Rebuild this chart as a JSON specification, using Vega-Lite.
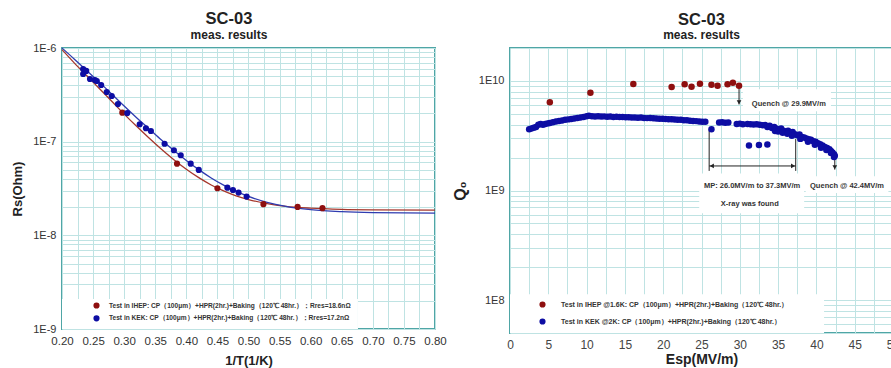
{
  "$schema": "https://vega.github.io/schema/vega-lite/v6.json",
  "background": "white",
  "padding": {"left": 10, "top": 9, "right": 0, "bottom": 0},
  "spacing": 3,
  "config": {
    "font": "Liberation Sans",
    "view": {"stroke": "#4fa6a6", "strokeWidth": 2},
    "axis": {
      "gridColor": "#bfe3e3", "gridOpacity": 1, "gridWidth": 1,
      "domain": false, "ticks": false,
      "labelFont": "Liberation Sans", "labelColor": "#333", "labelFontSize": 11,
      "titleFont": "Liberation Sans", "titleFontWeight": "bold", "titleColor": "#222", "titleFontSize": 13,
      "labelOverlap": false, "labelFlush": false, "labelBound": false
    },
    "title": {
      "font": "Liberation Sans", "fontSize": 16.5, "fontWeight": "bold", "color": "#222",
      "subtitleFont": "Liberation Sans", "subtitleFontSize": 12, "subtitleFontWeight": "bold", "subtitleColor": "#222"
    },
    "legend": {
      "title": null, "labelFont": "Liberation Sans", "labelFontWeight": "bold", "labelFontSize": 7,
      "labelColor": "#333", "labelLimit": 500, "symbolType": "circle", "symbolStrokeWidth": 0
    }
  },
  "resolve": {"scale": {"color": "independent"}, "legend": {"color": "independent"}},
  "datasets": {
    "leftBox": [{"x": 0.2, "x2": 0.676, "y": 1e-9, "y2": 2.09e-9}],
    "fits": [
      {"x": 0.20, "y": 1.0e-6, "series": "KEK"}, {"x": 0.22, "y": 7.60e-7, "series": "KEK"},
      {"x": 0.24, "y": 5.73e-7, "series": "KEK"}, {"x": 0.26, "y": 4.31e-7, "series": "KEK"},
      {"x": 0.28, "y": 3.23e-7, "series": "KEK"}, {"x": 0.30, "y": 2.40e-7, "series": "KEK"},
      {"x": 0.32, "y": 1.80e-7, "series": "KEK"}, {"x": 0.34, "y": 1.37e-7, "series": "KEK"},
      {"x": 0.36, "y": 1.04e-7, "series": "KEK"}, {"x": 0.38, "y": 8.05e-8, "series": "KEK"},
      {"x": 0.40, "y": 6.31e-8, "series": "KEK"}, {"x": 0.42, "y": 5.03e-8, "series": "KEK"},
      {"x": 0.44, "y": 4.10e-8, "series": "KEK"}, {"x": 0.46, "y": 3.43e-8, "series": "KEK"},
      {"x": 0.48, "y": 2.94e-8, "series": "KEK"}, {"x": 0.50, "y": 2.60e-8, "series": "KEK"},
      {"x": 0.53, "y": 2.25e-8, "series": "KEK"}, {"x": 0.56, "y": 2.04e-8, "series": "KEK"},
      {"x": 0.60, "y": 1.88e-8, "series": "KEK"}, {"x": 0.65, "y": 1.79e-8, "series": "KEK"},
      {"x": 0.70, "y": 1.75e-8, "series": "KEK"}, {"x": 0.80, "y": 1.725e-8, "series": "KEK"},
      {"x": 0.20, "y": 9.6e-7, "series": "IHEP"}, {"x": 0.22, "y": 6.90e-7, "series": "IHEP"},
      {"x": 0.24, "y": 5.05e-7, "series": "IHEP"}, {"x": 0.26, "y": 3.70e-7, "series": "IHEP"},
      {"x": 0.28, "y": 2.70e-7, "series": "IHEP"}, {"x": 0.30, "y": 1.97e-7, "series": "IHEP"},
      {"x": 0.32, "y": 1.46e-7, "series": "IHEP"}, {"x": 0.34, "y": 1.096e-7, "series": "IHEP"},
      {"x": 0.36, "y": 8.32e-8, "series": "IHEP"}, {"x": 0.38, "y": 6.43e-8, "series": "IHEP"},
      {"x": 0.40, "y": 5.08e-8, "series": "IHEP"}, {"x": 0.42, "y": 4.13e-8, "series": "IHEP"},
      {"x": 0.44, "y": 3.45e-8, "series": "IHEP"}, {"x": 0.46, "y": 2.98e-8, "series": "IHEP"},
      {"x": 0.48, "y": 2.64e-8, "series": "IHEP"}, {"x": 0.50, "y": 2.41e-8, "series": "IHEP"},
      {"x": 0.53, "y": 2.18e-8, "series": "IHEP"}, {"x": 0.56, "y": 2.04e-8, "series": "IHEP"},
      {"x": 0.60, "y": 1.95e-8, "series": "IHEP"}, {"x": 0.65, "y": 1.895e-8, "series": "IHEP"},
      {"x": 0.70, "y": 1.874e-8, "series": "IHEP"}, {"x": 0.80, "y": 1.861e-8, "series": "IHEP"}
    ],
    "rs": [
      {"x": 0.297, "y": 2.04e-7, "test": "Test in IHEP: CP（100μm）+HPR(2hr.)+Baking（120℃ 48hr.）：Rres=18.6nΩ"},
      {"x": 0.385, "y": 5.82e-8, "test": "Test in IHEP: CP（100μm）+HPR(2hr.)+Baking（120℃ 48hr.）：Rres=18.6nΩ"},
      {"x": 0.450, "y": 3.18e-8, "test": "Test in IHEP: CP（100μm）+HPR(2hr.)+Baking（120℃ 48hr.）：Rres=18.6nΩ"},
      {"x": 0.524, "y": 2.15e-8, "test": "Test in IHEP: CP（100μm）+HPR(2hr.)+Baking（120℃ 48hr.）：Rres=18.6nΩ"},
      {"x": 0.579, "y": 2.01e-8, "test": "Test in IHEP: CP（100μm）+HPR(2hr.)+Baking（120℃ 48hr.）：Rres=18.6nΩ"},
      {"x": 0.619, "y": 1.95e-8, "test": "Test in IHEP: CP（100μm）+HPR(2hr.)+Baking（120℃ 48hr.）：Rres=18.6nΩ"},
      {"x": 0.234, "y": 5.97e-7, "test": "Test in KEK: CP（100μm）+HPR(2hr.)+Baking（120℃ 48hr.）：Rres=17.2nΩ"},
      {"x": 0.239, "y": 5.69e-7, "test": "Test in KEK: CP（100μm）+HPR(2hr.)+Baking（120℃ 48hr.）：Rres=17.2nΩ"},
      {"x": 0.234, "y": 5.28e-7, "test": "Test in KEK: CP（100μm）+HPR(2hr.)+Baking（120℃ 48hr.）：Rres=17.2nΩ"},
      {"x": 0.245, "y": 4.67e-7, "test": "Test in KEK: CP（100μm）+HPR(2hr.)+Baking（120℃ 48hr.）：Rres=17.2nΩ"},
      {"x": 0.253, "y": 4.55e-7, "test": "Test in KEK: CP（100μm）+HPR(2hr.)+Baking（120℃ 48hr.）：Rres=17.2nΩ"},
      {"x": 0.256, "y": 4.44e-7, "test": "Test in KEK: CP（100μm）+HPR(2hr.)+Baking（120℃ 48hr.）：Rres=17.2nΩ"},
      {"x": 0.263, "y": 4.03e-7, "test": "Test in KEK: CP（100μm）+HPR(2hr.)+Baking（120℃ 48hr.）：Rres=17.2nΩ"},
      {"x": 0.272, "y": 3.39e-7, "test": "Test in KEK: CP（100μm）+HPR(2hr.)+Baking（120℃ 48hr.）：Rres=17.2nΩ"},
      {"x": 0.280, "y": 3.07e-7, "test": "Test in KEK: CP（100μm）+HPR(2hr.)+Baking（120℃ 48hr.）：Rres=17.2nΩ"},
      {"x": 0.290, "y": 2.52e-7, "test": "Test in KEK: CP（100μm）+HPR(2hr.)+Baking（120℃ 48hr.）：Rres=17.2nΩ"},
      {"x": 0.305, "y": 2.02e-7, "test": "Test in KEK: CP（100μm）+HPR(2hr.)+Baking（120℃ 48hr.）：Rres=17.2nΩ"},
      {"x": 0.325, "y": 1.535e-7, "test": "Test in KEK: CP（100μm）+HPR(2hr.)+Baking（120℃ 48hr.）：Rres=17.2nΩ"},
      {"x": 0.335, "y": 1.39e-7, "test": "Test in KEK: CP（100μm）+HPR(2hr.)+Baking（120℃ 48hr.）：Rres=17.2nΩ"},
      {"x": 0.343, "y": 1.30e-7, "test": "Test in KEK: CP（100μm）+HPR(2hr.)+Baking（120℃ 48hr.）：Rres=17.2nΩ"},
      {"x": 0.365, "y": 9.5e-8, "test": "Test in KEK: CP（100μm）+HPR(2hr.)+Baking（120℃ 48hr.）：Rres=17.2nΩ"},
      {"x": 0.380, "y": 8.09e-8, "test": "Test in KEK: CP（100μm）+HPR(2hr.)+Baking（120℃ 48hr.）：Rres=17.2nΩ"},
      {"x": 0.391, "y": 7.16e-8, "test": "Test in KEK: CP（100μm）+HPR(2hr.)+Baking（120℃ 48hr.）：Rres=17.2nΩ"},
      {"x": 0.407, "y": 5.82e-8, "test": "Test in KEK: CP（100μm）+HPR(2hr.)+Baking（120℃ 48hr.）：Rres=17.2nΩ"},
      {"x": 0.420, "y": 4.99e-8, "test": "Test in KEK: CP（100μm）+HPR(2hr.)+Baking（120℃ 48hr.）：Rres=17.2nΩ"},
      {"x": 0.466, "y": 3.23e-8, "test": "Test in KEK: CP（100μm）+HPR(2hr.)+Baking（120℃ 48hr.）：Rres=17.2nΩ"},
      {"x": 0.475, "y": 3.05e-8, "test": "Test in KEK: CP（100μm）+HPR(2hr.)+Baking（120℃ 48hr.）：Rres=17.2nΩ"},
      {"x": 0.484, "y": 2.86e-8, "test": "Test in KEK: CP（100μm）+HPR(2hr.)+Baking（120℃ 48hr.）：Rres=17.2nΩ"},
      {"x": 0.497, "y": 2.59e-8, "test": "Test in KEK: CP（100μm）+HPR(2hr.)+Baking（120℃ 48hr.）：Rres=17.2nΩ"}
    ],
    "rBoxes": [
      {"x": 0, "x2": 41, "y": 5e7, "y2": 1.13e8},
      {"x": 30.4, "x2": 41.9, "y": 5.3e9, "y2": 8.4e9},
      {"x": 24.7, "x2": 38.4, "y": 6.2e8, "y2": 1.43e9},
      {"x": 38.6, "x2": 49.4, "y": 9.5e8, "y2": 1.35e9}
    ],
    "rLines": [
      {"x": 26.0, "x2": 26.0, "y": 3.55e9, "y2": 1.51e9},
      {"x": 37.3, "x2": 37.3, "y": 2.95e9, "y2": 1.51e9},
      {"x": 26.0, "x2": 37.3, "y": 1.675e9, "y2": 1.675e9},
      {"x": 29.9, "x2": 29.9, "y": 8.6e9, "y2": 6.1e9},
      {"x": 42.4, "x2": 42.4, "y": 2.0e9, "y2": 1.55e9}
    ],
    "rHeads": [
      {"x": 26.35, "y": 1.675e9, "dir": "left"},
      {"x": 36.95, "y": 1.675e9, "dir": "right"},
      {"x": 29.9, "y": 6.4e9, "dir": "down"},
      {"x": 42.4, "y": 1.63e9, "dir": "down"}
    ],
    "rText": [
      {"x": 36.4, "y": 6.16e9, "label": "Quench @ 29.9MV/m"},
      {"x": 31.6, "y": 1.1e9, "label": "MP: 26.0MV/m to 37.3MV/m"},
      {"x": 31.3, "y": 7.48e8, "label": "X-ray was found"},
      {"x": 44.0, "y": 1.1e9, "label": "Quench @ 42.4MV/m"}
    ],
    "q0": [
      {"x": 5.2, "y": 6.38e9, "test": "Test in IHEP @1.6K: CP（100μm）+HPR(2hr.)+Baking（120℃ 48hr.）"},
      {"x": 10.5, "y": 7.81e9, "test": "Test in IHEP @1.6K: CP（100μm）+HPR(2hr.)+Baking（120℃ 48hr.）"},
      {"x": 16.1, "y": 9.38e9, "test": "Test in IHEP @1.6K: CP（100μm）+HPR(2hr.)+Baking（120℃ 48hr.）"},
      {"x": 21.1, "y": 8.81e9, "test": "Test in IHEP @1.6K: CP（100μm）+HPR(2hr.)+Baking（120℃ 48hr.）"},
      {"x": 22.8, "y": 9.33e9, "test": "Test in IHEP @1.6K: CP（100μm）+HPR(2hr.)+Baking（120℃ 48hr.）"},
      {"x": 23.7, "y": 8.87e9, "test": "Test in IHEP @1.6K: CP（100μm）+HPR(2hr.)+Baking（120℃ 48hr.）"},
      {"x": 24.8, "y": 9.45e9, "test": "Test in IHEP @1.6K: CP（100μm）+HPR(2hr.)+Baking（120℃ 48hr.）"},
      {"x": 26.3, "y": 9.25e9, "test": "Test in IHEP @1.6K: CP（100μm）+HPR(2hr.)+Baking（120℃ 48hr.）"},
      {"x": 27.1, "y": 9.06e9, "test": "Test in IHEP @1.6K: CP（100μm）+HPR(2hr.)+Baking（120℃ 48hr.）"},
      {"x": 28.4, "y": 9.33e9, "test": "Test in IHEP @1.6K: CP（100μm）+HPR(2hr.)+Baking（120℃ 48hr.）"},
      {"x": 29.1, "y": 9.64e9, "test": "Test in IHEP @1.6K: CP（100μm）+HPR(2hr.)+Baking（120℃ 48hr.）"},
      {"x": 29.9, "y": 9.06e9, "test": "Test in IHEP @1.6K: CP（100μm）+HPR(2hr.)+Baking（120℃ 48hr.）"},
      {"x": 2.5, "y": 3.62e9, "test": "Test in KEK @2K: CP（100μm）+HPR(2hr.)+Baking（120℃ 48hr.）"},
      {"x": 2.8, "y": 3.68e9, "test": "Test in KEK @2K: CP（100μm）+HPR(2hr.)+Baking（120℃ 48hr.）"},
      {"x": 3.1, "y": 3.74e9, "test": "Test in KEK @2K: CP（100μm）+HPR(2hr.)+Baking（120℃ 48hr.）"},
      {"x": 3.4, "y": 3.80e9, "test": "Test in KEK @2K: CP（100μm）+HPR(2hr.)+Baking（120℃ 48hr.）"},
      {"x": 3.7, "y": 3.98e9, "test": "Test in KEK @2K: CP（100μm）+HPR(2hr.)+Baking（120℃ 48hr.）"},
      {"x": 4.0, "y": 4.05e9, "test": "Test in KEK @2K: CP（100μm）+HPR(2hr.)+Baking（120℃ 48hr.）"},
      {"x": 4.3, "y": 3.98e9, "test": "Test in KEK @2K: CP（100μm）+HPR(2hr.)+Baking（120℃ 48hr.）"},
      {"x": 4.6, "y": 4.05e9, "test": "Test in KEK @2K: CP（100μm）+HPR(2hr.)+Baking（120℃ 48hr.）"},
      {"x": 4.9, "y": 4.10e9, "test": "Test in KEK @2K: CP（100μm）+HPR(2hr.)+Baking（120℃ 48hr.）"},
      {"x": 5.2, "y": 4.14e9, "test": "Test in KEK @2K: CP（100μm）+HPR(2hr.)+Baking（120℃ 48hr.）"},
      {"x": 5.6, "y": 4.20e9, "test": "Test in KEK @2K: CP（100μm）+HPR(2hr.)+Baking（120℃ 48hr.）"},
      {"x": 6.0, "y": 4.26e9, "test": "Test in KEK @2K: CP（100μm）+HPR(2hr.)+Baking（120℃ 48hr.）"},
      {"x": 6.4, "y": 4.31e9, "test": "Test in KEK @2K: CP（100μm）+HPR(2hr.)+Baking（120℃ 48hr.）"},
      {"x": 6.8, "y": 4.36e9, "test": "Test in KEK @2K: CP（100μm）+HPR(2hr.)+Baking（120℃ 48hr.）"},
      {"x": 7.2, "y": 4.42e9, "test": "Test in KEK @2K: CP（100μm）+HPR(2hr.)+Baking（120℃ 48hr.）"},
      {"x": 7.6, "y": 4.46e9, "test": "Test in KEK @2K: CP（100μm）+HPR(2hr.)+Baking（120℃ 48hr.）"},
      {"x": 8.0, "y": 4.50e9, "test": "Test in KEK @2K: CP（100μm）+HPR(2hr.)+Baking（120℃ 48hr.）"},
      {"x": 8.4, "y": 4.55e9, "test": "Test in KEK @2K: CP（100μm）+HPR(2hr.)+Baking（120℃ 48hr.）"},
      {"x": 8.8, "y": 4.60e9, "test": "Test in KEK @2K: CP（100μm）+HPR(2hr.)+Baking（120℃ 48hr.）"},
      {"x": 9.2, "y": 4.64e9, "test": "Test in KEK @2K: CP（100μm）+HPR(2hr.)+Baking（120℃ 48hr.）"},
      {"x": 9.6, "y": 4.70e9, "test": "Test in KEK @2K: CP（100μm）+HPR(2hr.)+Baking（120℃ 48hr.）"},
      {"x": 10.0, "y": 4.76e9, "test": "Test in KEK @2K: CP（100μm）+HPR(2hr.)+Baking（120℃ 48hr.）"},
      {"x": 10.3, "y": 4.82e9, "test": "Test in KEK @2K: CP（100μm）+HPR(2hr.)+Baking（120℃ 48hr.）"},
      {"x": 10.7, "y": 4.76e9, "test": "Test in KEK @2K: CP（100μm）+HPR(2hr.)+Baking（120℃ 48hr.）"},
      {"x": 11.1, "y": 4.74e9, "test": "Test in KEK @2K: CP（100μm）+HPR(2hr.)+Baking（120℃ 48hr.）"},
      {"x": 11.5, "y": 4.77e9, "test": "Test in KEK @2K: CP（100μm）+HPR(2hr.)+Baking（120℃ 48hr.）"},
      {"x": 11.9, "y": 4.73e9, "test": "Test in KEK @2K: CP（100μm）+HPR(2hr.)+Baking（120℃ 48hr.）"},
      {"x": 12.3, "y": 4.75e9, "test": "Test in KEK @2K: CP（100μm）+HPR(2hr.)+Baking（120℃ 48hr.）"},
      {"x": 12.7, "y": 4.72e9, "test": "Test in KEK @2K: CP（100μm）+HPR(2hr.)+Baking（120℃ 48hr.）"},
      {"x": 13.1, "y": 4.73e9, "test": "Test in KEK @2K: CP（100μm）+HPR(2hr.)+Baking（120℃ 48hr.）"},
      {"x": 13.5, "y": 4.70e9, "test": "Test in KEK @2K: CP（100μm）+HPR(2hr.)+Baking（120℃ 48hr.）"},
      {"x": 13.9, "y": 4.72e9, "test": "Test in KEK @2K: CP（100μm）+HPR(2hr.)+Baking（120℃ 48hr.）"},
      {"x": 14.3, "y": 4.68e9, "test": "Test in KEK @2K: CP（100μm）+HPR(2hr.)+Baking（120℃ 48hr.）"},
      {"x": 14.7, "y": 4.69e9, "test": "Test in KEK @2K: CP（100μm）+HPR(2hr.)+Baking（120℃ 48hr.）"},
      {"x": 15.1, "y": 4.66e9, "test": "Test in KEK @2K: CP（100μm）+HPR(2hr.)+Baking（120℃ 48hr.）"},
      {"x": 15.5, "y": 4.67e9, "test": "Test in KEK @2K: CP（100μm）+HPR(2hr.)+Baking（120℃ 48hr.）"},
      {"x": 15.9, "y": 4.64e9, "test": "Test in KEK @2K: CP（100μm）+HPR(2hr.)+Baking（120℃ 48hr.）"},
      {"x": 16.3, "y": 4.65e9, "test": "Test in KEK @2K: CP（100μm）+HPR(2hr.)+Baking（120℃ 48hr.）"},
      {"x": 16.7, "y": 4.62e9, "test": "Test in KEK @2K: CP（100μm）+HPR(2hr.)+Baking（120℃ 48hr.）"},
      {"x": 17.1, "y": 4.63e9, "test": "Test in KEK @2K: CP（100μm）+HPR(2hr.)+Baking（120℃ 48hr.）"},
      {"x": 17.5, "y": 4.60e9, "test": "Test in KEK @2K: CP（100μm）+HPR(2hr.)+Baking（120℃ 48hr.）"},
      {"x": 17.9, "y": 4.58e9, "test": "Test in KEK @2K: CP（100μm）+HPR(2hr.)+Baking（120℃ 48hr.）"},
      {"x": 18.3, "y": 4.59e9, "test": "Test in KEK @2K: CP（100μm）+HPR(2hr.)+Baking（120℃ 48hr.）"},
      {"x": 18.7, "y": 4.56e9, "test": "Test in KEK @2K: CP（100μm）+HPR(2hr.)+Baking（120℃ 48hr.）"},
      {"x": 19.1, "y": 4.55e9, "test": "Test in KEK @2K: CP（100μm）+HPR(2hr.)+Baking（120℃ 48hr.）"},
      {"x": 19.5, "y": 4.52e9, "test": "Test in KEK @2K: CP（100μm）+HPR(2hr.)+Baking（120℃ 48hr.）"},
      {"x": 19.9, "y": 4.53e9, "test": "Test in KEK @2K: CP（100μm）+HPR(2hr.)+Baking（120℃ 48hr.）"},
      {"x": 20.3, "y": 4.50e9, "test": "Test in KEK @2K: CP（100μm）+HPR(2hr.)+Baking（120℃ 48hr.）"},
      {"x": 20.7, "y": 4.48e9, "test": "Test in KEK @2K: CP（100μm）+HPR(2hr.)+Baking（120℃ 48hr.）"},
      {"x": 21.1, "y": 4.47e9, "test": "Test in KEK @2K: CP（100μm）+HPR(2hr.)+Baking（120℃ 48hr.）"},
      {"x": 21.5, "y": 4.45e9, "test": "Test in KEK @2K: CP（100μm）+HPR(2hr.)+Baking（120℃ 48hr.）"},
      {"x": 21.9, "y": 4.43e9, "test": "Test in KEK @2K: CP（100μm）+HPR(2hr.)+Baking（120℃ 48hr.）"},
      {"x": 22.3, "y": 4.42e9, "test": "Test in KEK @2K: CP（100μm）+HPR(2hr.)+Baking（120℃ 48hr.）"},
      {"x": 22.7, "y": 4.38e9, "test": "Test in KEK @2K: CP（100μm）+HPR(2hr.)+Baking（120℃ 48hr.）"},
      {"x": 23.1, "y": 4.37e9, "test": "Test in KEK @2K: CP（100μm）+HPR(2hr.)+Baking（120℃ 48hr.）"},
      {"x": 23.5, "y": 4.34e9, "test": "Test in KEK @2K: CP（100μm）+HPR(2hr.)+Baking（120℃ 48hr.）"},
      {"x": 23.9, "y": 4.31e9, "test": "Test in KEK @2K: CP（100μm）+HPR(2hr.)+Baking（120℃ 48hr.）"},
      {"x": 24.3, "y": 4.30e9, "test": "Test in KEK @2K: CP（100μm）+HPR(2hr.)+Baking（120℃ 48hr.）"},
      {"x": 24.7, "y": 4.27e9, "test": "Test in KEK @2K: CP（100μm）+HPR(2hr.)+Baking（120℃ 48hr.）"},
      {"x": 25.1, "y": 4.25e9, "test": "Test in KEK @2K: CP（100μm）+HPR(2hr.)+Baking（120℃ 48hr.）"},
      {"x": 25.5, "y": 4.24e9, "test": "Test in KEK @2K: CP（100μm）+HPR(2hr.)+Baking（120℃ 48hr.）"},
      {"x": 26.3, "y": 3.62e9, "test": "Test in KEK @2K: CP（100μm）+HPR(2hr.)+Baking（120℃ 48hr.）"},
      {"x": 27.3, "y": 4.18e9, "test": "Test in KEK @2K: CP（100μm）+HPR(2hr.)+Baking（120℃ 48hr.）"},
      {"x": 27.7, "y": 4.20e9, "test": "Test in KEK @2K: CP（100μm）+HPR(2hr.)+Baking（120℃ 48hr.）"},
      {"x": 28.1, "y": 4.15e9, "test": "Test in KEK @2K: CP（100μm）+HPR(2hr.)+Baking（120℃ 48hr.）"},
      {"x": 28.5, "y": 4.18e9, "test": "Test in KEK @2K: CP（100μm）+HPR(2hr.)+Baking（120℃ 48hr.）"},
      {"x": 29.6, "y": 4.05e9, "test": "Test in KEK @2K: CP（100μm）+HPR(2hr.)+Baking（120℃ 48hr.）"},
      {"x": 30.0, "y": 4.08e9, "test": "Test in KEK @2K: CP（100μm）+HPR(2hr.)+Baking（120℃ 48hr.）"},
      {"x": 30.4, "y": 4.02e9, "test": "Test in KEK @2K: CP（100μm）+HPR(2hr.)+Baking（120℃ 48hr.）"},
      {"x": 31.0, "y": 4.05e9, "test": "Test in KEK @2K: CP（100μm）+HPR(2hr.)+Baking（120℃ 48hr.）"},
      {"x": 31.4, "y": 4.03e9, "test": "Test in KEK @2K: CP（100μm）+HPR(2hr.)+Baking（120℃ 48hr.）"},
      {"x": 31.8, "y": 4.00e9, "test": "Test in KEK @2K: CP（100μm）+HPR(2hr.)+Baking（120℃ 48hr.）"},
      {"x": 32.2, "y": 4.02e9, "test": "Test in KEK @2K: CP（100μm）+HPR(2hr.)+Baking（120℃ 48hr.）"},
      {"x": 32.6, "y": 3.98e9, "test": "Test in KEK @2K: CP（100μm）+HPR(2hr.)+Baking（120℃ 48hr.）"},
      {"x": 33.0, "y": 3.95e9, "test": "Test in KEK @2K: CP（100μm）+HPR(2hr.)+Baking（120℃ 48hr.）"},
      {"x": 33.3, "y": 3.97e9, "test": "Test in KEK @2K: CP（100μm）+HPR(2hr.)+Baking（120℃ 48hr.）"},
      {"x": 33.6, "y": 3.80e9, "test": "Test in KEK @2K: CP（100μm）+HPR(2hr.)+Baking（120℃ 48hr.）"},
      {"x": 33.9, "y": 3.90e9, "test": "Test in KEK @2K: CP（100μm）+HPR(2hr.)+Baking（120℃ 48hr.）"},
      {"x": 34.2, "y": 3.72e9, "test": "Test in KEK @2K: CP（100μm）+HPR(2hr.)+Baking（120℃ 48hr.）"},
      {"x": 34.5, "y": 3.80e9, "test": "Test in KEK @2K: CP（100μm）+HPR(2hr.)+Baking（120℃ 48hr.）"},
      {"x": 34.8, "y": 3.66e9, "test": "Test in KEK @2K: CP（100μm）+HPR(2hr.)+Baking（120℃ 48hr.）"},
      {"x": 35.1, "y": 3.60e9, "test": "Test in KEK @2K: CP（100μm）+HPR(2hr.)+Baking（120℃ 48hr.）"},
      {"x": 35.4, "y": 3.68e9, "test": "Test in KEK @2K: CP（100μm）+HPR(2hr.)+Baking（120℃ 48hr.）"},
      {"x": 35.7, "y": 3.52e9, "test": "Test in KEK @2K: CP（100μm）+HPR(2hr.)+Baking（120℃ 48hr.）"},
      {"x": 36.0, "y": 3.44e9, "test": "Test in KEK @2K: CP（100μm）+HPR(2hr.)+Baking（120℃ 48hr.）"},
      {"x": 36.3, "y": 3.52e9, "test": "Test in KEK @2K: CP（100μm）+HPR(2hr.)+Baking（120℃ 48hr.）"},
      {"x": 36.6, "y": 3.36e9, "test": "Test in KEK @2K: CP（100μm）+HPR(2hr.)+Baking（120℃ 48hr.）"},
      {"x": 36.9, "y": 3.42e9, "test": "Test in KEK @2K: CP（100μm）+HPR(2hr.)+Baking（120℃ 48hr.）"},
      {"x": 37.2, "y": 3.26e9, "test": "Test in KEK @2K: CP（100μm）+HPR(2hr.)+Baking（120℃ 48hr.）"},
      {"x": 37.5, "y": 3.20e9, "test": "Test in KEK @2K: CP（100μm）+HPR(2hr.)+Baking（120℃ 48hr.）"},
      {"x": 37.8, "y": 3.25e9, "test": "Test in KEK @2K: CP（100μm）+HPR(2hr.)+Baking（120℃ 48hr.）"},
      {"x": 38.1, "y": 3.08e9, "test": "Test in KEK @2K: CP（100μm）+HPR(2hr.)+Baking（120℃ 48hr.）"},
      {"x": 38.4, "y": 3.05e9, "test": "Test in KEK @2K: CP（100μm）+HPR(2hr.)+Baking（120℃ 48hr.）"},
      {"x": 38.7, "y": 2.98e9, "test": "Test in KEK @2K: CP（100μm）+HPR(2hr.)+Baking（120℃ 48hr.）"},
      {"x": 39.0, "y": 2.94e9, "test": "Test in KEK @2K: CP（100μm）+HPR(2hr.)+Baking（120℃ 48hr.）"},
      {"x": 39.3, "y": 2.90e9, "test": "Test in KEK @2K: CP（100μm）+HPR(2hr.)+Baking（120℃ 48hr.）"},
      {"x": 39.6, "y": 2.82e9, "test": "Test in KEK @2K: CP（100μm）+HPR(2hr.)+Baking（120℃ 48hr.）"},
      {"x": 39.9, "y": 2.78e9, "test": "Test in KEK @2K: CP（100μm）+HPR(2hr.)+Baking（120℃ 48hr.）"},
      {"x": 40.2, "y": 2.70e9, "test": "Test in KEK @2K: CP（100μm）+HPR(2hr.)+Baking（120℃ 48hr.）"},
      {"x": 40.5, "y": 2.64e9, "test": "Test in KEK @2K: CP（100μm）+HPR(2hr.)+Baking（120℃ 48hr.）"},
      {"x": 40.8, "y": 2.58e9, "test": "Test in KEK @2K: CP（100μm）+HPR(2hr.)+Baking（120℃ 48hr.）"},
      {"x": 41.1, "y": 2.50e9, "test": "Test in KEK @2K: CP（100μm）+HPR(2hr.)+Baking（120℃ 48hr.）"},
      {"x": 41.4, "y": 2.45e9, "test": "Test in KEK @2K: CP（100μm）+HPR(2hr.)+Baking（120℃ 48hr.）"},
      {"x": 41.7, "y": 2.38e9, "test": "Test in KEK @2K: CP（100μm）+HPR(2hr.)+Baking（120℃ 48hr.）"},
      {"x": 41.9, "y": 2.30e9, "test": "Test in KEK @2K: CP（100μm）+HPR(2hr.)+Baking（120℃ 48hr.）"},
      {"x": 42.1, "y": 2.22e9, "test": "Test in KEK @2K: CP（100μm）+HPR(2hr.)+Baking（120℃ 48hr.）"},
      {"x": 42.3, "y": 2.14e9, "test": "Test in KEK @2K: CP（100μm）+HPR(2hr.)+Baking（120℃ 48hr.）"},
      {"x": 42.4, "y": 2.08e9, "test": "Test in KEK @2K: CP（100μm）+HPR(2hr.)+Baking（120℃ 48hr.）"},
      {"x": 34.6, "y": 3.50e9, "test": "Test in KEK @2K: CP（100μm）+HPR(2hr.)+Baking（120℃ 48hr.）"},
      {"x": 35.0, "y": 3.45e9, "test": "Test in KEK @2K: CP（100μm）+HPR(2hr.)+Baking（120℃ 48hr.）"},
      {"x": 35.6, "y": 3.36e9, "test": "Test in KEK @2K: CP（100μm）+HPR(2hr.)+Baking（120℃ 48hr.）"},
      {"x": 36.2, "y": 3.30e9, "test": "Test in KEK @2K: CP（100μm）+HPR(2hr.)+Baking（120℃ 48hr.）"},
      {"x": 36.8, "y": 3.16e9, "test": "Test in KEK @2K: CP（100μm）+HPR(2hr.)+Baking（120℃ 48hr.）"},
      {"x": 37.9, "y": 2.96e9, "test": "Test in KEK @2K: CP（100μm）+HPR(2hr.)+Baking（120℃ 48hr.）"},
      {"x": 38.9, "y": 2.78e9, "test": "Test in KEK @2K: CP（100μm）+HPR(2hr.)+Baking（120℃ 48hr.）"},
      {"x": 39.8, "y": 2.62e9, "test": "Test in KEK @2K: CP（100μm）+HPR(2hr.)+Baking（120℃ 48hr.）"},
      {"x": 40.6, "y": 2.46e9, "test": "Test in KEK @2K: CP（100μm）+HPR(2hr.)+Baking（120℃ 48hr.）"},
      {"x": 41.3, "y": 2.34e9, "test": "Test in KEK @2K: CP（100μm）+HPR(2hr.)+Baking（120℃ 48hr.）"},
      {"x": 41.9, "y": 2.20e9, "test": "Test in KEK @2K: CP（100μm）+HPR(2hr.)+Baking（120℃ 48hr.）"},
      {"x": 42.3, "y": 2.02e9, "test": "Test in KEK @2K: CP（100μm）+HPR(2hr.)+Baking（120℃ 48hr.）"},
      {"x": 31.2, "y": 2.57e9, "test": "Test in KEK @2K: CP（100μm）+HPR(2hr.)+Baking（120℃ 48hr.）"},
      {"x": 32.5, "y": 2.60e9, "test": "Test in KEK @2K: CP（100μm）+HPR(2hr.)+Baking（120℃ 48hr.）"},
      {"x": 33.6, "y": 2.63e9, "test": "Test in KEK @2K: CP（100μm）+HPR(2hr.)+Baking（120℃ 48hr.）"}
    ]
  },
  "hconcat": [
    {
      "width": 373, "height": 281,
      "title": {"text": "SC-03", "subtitle": "meas. results", "anchor": "middle", "frame": "bounds", "offset": 1, "subtitlePadding": 3},
      "resolve": {"axis": {"x": "independent", "y": "independent"}},
      "layer": [
        {
          "data": {"name": "leftBox"},
          "mark": {"type": "rect", "fill": "white"},
          "encoding": {
            "x": {"field": "x", "type": "quantitative",
              "scale": {"domain": [0.2, 0.8], "nice": false, "zero": false},
              "axis": {"title": "1/T(1/K)", "orient": "bottom", "grid": false, "labelPadding": 6, "titlePadding": 8, "labelOverlap": false, "labelFontSize": 11.5, "format": ".2f",
                "values": [0.2, 0.25, 0.3, 0.35, 0.4, 0.45, 0.5, 0.55, 0.6, 0.65, 0.7, 0.75, 0.8]}},
            "x2": {"field": "x2"},
            "y": {"field": "y", "type": "quantitative",
              "scale": {"type": "log", "domain": [1e-9, 1e-6], "nice": false},
              "axis": {"title": "Rs(Ohm)", "orient": "left", "grid": false, "labelPadding": 6, "titlePadding": 8, "labelOverlap": false,
                "values": [1e-9, 1e-8, 1e-7, 1e-6],
                "labelExpr": "'1E' + round(log(datum.value)/LN10)"}},
            "y2": {"field": "y2"}
          }
        },
        {
          "data": {"name": "fits"},
          "transform": [{"filter": "datum.series == 'IHEP'"}],
          "mark": {"type": "line", "color": "#a5372c", "strokeWidth": 1.3, "interpolate": "monotone"},
          "encoding": {
            "x": {"field": "x", "type": "quantitative",
              "axis": {"title": null, "orient": "top", "grid": true, "labels": false, "ticks": false, "domain": false,
                "values": [0.2, 0.225, 0.25, 0.275, 0.3, 0.325, 0.35, 0.375, 0.4, 0.425, 0.45, 0.475, 0.5, 0.525, 0.55, 0.575, 0.6, 0.625, 0.65, 0.675, 0.7, 0.725, 0.75, 0.775, 0.8]}},
            "y": {"field": "y", "type": "quantitative",
              "axis": {"title": null, "orient": "right", "grid": true, "labels": false, "ticks": false, "domain": false,
                "values": [1e-9, 2e-9, 3e-9, 4e-9, 5e-9, 6e-9, 7e-9, 8e-9, 9e-9, 1e-8, 2e-8, 3e-8, 4e-8, 5e-8, 6e-8, 7e-8, 8e-8, 9e-8, 1e-7, 2e-7, 3e-7, 4e-7, 5e-7, 6e-7, 7e-7, 8e-7, 9e-7, 1e-6]}}
          }
        },
        {
          "data": {"name": "fits"},
          "transform": [{"filter": "datum.series == 'KEK'"}],
          "mark": {"type": "line", "color": "#2f3cb0", "strokeWidth": 1.3, "interpolate": "monotone"},
          "encoding": {"x": {"field": "x", "type": "quantitative", "axis": null}, "y": {"field": "y", "type": "quantitative", "axis": null}}
        },
        {
          "data": {"name": "rs"},
          "mark": {"type": "circle", "size": 38, "opacity": 1},
          "encoding": {
            "x": {"field": "x", "type": "quantitative", "axis": null},
            "y": {"field": "y", "type": "quantitative", "axis": null},
            "color": {"field": "test", "type": "nominal",
              "scale": {"domain": ["Test in IHEP: CP（100μm）+HPR(2hr.)+Baking（120℃ 48hr.）：Rres=18.6nΩ", "Test in KEK: CP（100μm）+HPR(2hr.)+Baking（120℃ 48hr.）：Rres=17.2nΩ"], "range": ["#8e0f0f", "#0d0da3"]},
              "legend": {"orient": "none", "legendX": 31, "legendY": 254, "symbolSize": 38, "rowPadding": 4.8, "labelOffset": 9, "labelFontSize": 6.6, "padding": 0}}
          }
        }
      ]
    },
    {
      "width": 383, "height": 285,
      "title": {"text": "SC-03", "subtitle": "meas. results", "anchor": "middle", "frame": "group", "offset": 7, "subtitlePadding": 2},
      "resolve": {"axis": {"x": "independent", "y": "independent"}},
      "layer": [
        {
          "data": {"name": "rBoxes"},
          "mark": {"type": "rect", "fill": "white"},
          "encoding": {
            "x": {"field": "x", "type": "quantitative",
              "scale": {"domain": [0, 50], "nice": false, "zero": false},
              "axis": {"title": "Esp(MV/m)", "orient": "bottom", "grid": false, "labelPadding": 6, "titlePadding": 2, "labelFontSize": 12, "titleFontSize": 14, "labelColor": "#444", "labelOverlap": false, "format": "d",
                "values": [0, 5, 10, 15, 20, 25, 30, 35, 40, 45, 50]}},
            "x2": {"field": "x2"},
            "y": {"field": "y", "type": "quantitative",
              "scale": {"type": "log", "domain": [5e7, 2e10], "nice": false},
              "axis": {"title": "Q₀", "orient": "left", "grid": false, "labelPadding": 6, "titlePadding": 10, "titleFontSize": 16, "labelOverlap": false,
                "values": [1e8, 1e9, 1e10],
                "labelExpr": "'1E' + round(log(datum.value)/LN10)"}},
            "y2": {"field": "y2"}
          }
        },
        {
          "data": {"name": "rLines"},
          "mark": {"type": "rule", "color": "#222", "strokeWidth": 1},
          "encoding": {
            "x": {"field": "x", "type": "quantitative",
              "axis": {"title": null, "orient": "top", "grid": true, "labels": false, "ticks": false, "domain": false,
                "values": [0, 2.5, 5, 7.5, 10, 12.5, 15, 17.5, 20, 22.5, 25, 27.5, 30, 32.5, 35, 37.5, 40, 42.5, 45, 47.5, 50]}},
            "x2": {"field": "x2"},
            "y": {"field": "y", "type": "quantitative",
              "axis": {"title": null, "orient": "right", "grid": true, "labels": false, "ticks": false, "domain": false,
                "values": [5e7, 6e7, 7e7, 8e7, 9e7, 1e8, 2e8, 3e8, 4e8, 5e8, 6e8, 7e8, 8e8, 9e8, 1e9, 2e9, 3e9, 4e9, 5e9, 6e9, 7e9, 8e9, 9e9, 1e10, 2e10]}},
            "y2": {"field": "y2"}
          }
        },
        {
          "data": {"name": "rHeads"},
          "mark": {"type": "point", "filled": true, "color": "#222", "size": 22, "opacity": 1},
          "encoding": {"x": {"field": "x", "type": "quantitative", "axis": null}, "y": {"field": "y", "type": "quantitative", "axis": null},
            "shape": {"field": "dir", "type": "nominal", "scale": {"domain": ["left", "right", "down"], "range": ["triangle-left", "triangle-right", "triangle-down"]}, "legend": null}}
        },
        {
          "data": {"name": "rText"},
          "mark": {"type": "text", "font": "Liberation Sans", "fontSize": 7.5, "fontWeight": "bold", "color": "#333", "align": "center", "baseline": "middle"},
          "encoding": {"x": {"field": "x", "type": "quantitative", "axis": null}, "y": {"field": "y", "type": "quantitative", "axis": null}, "text": {"field": "label"}}
        },
        {
          "data": {"name": "q0"},
          "mark": {"type": "circle", "size": 42, "opacity": 1},
          "encoding": {
            "x": {"field": "x", "type": "quantitative", "axis": null},
            "y": {"field": "y", "type": "quantitative", "axis": null},
            "color": {"field": "test", "type": "nominal",
              "scale": {"domain": ["Test in IHEP @1.6K: CP（100μm）+HPR(2hr.)+Baking（120℃ 48hr.）", "Test in KEK @2K: CP（100μm）+HPR(2hr.)+Baking（120℃ 48hr.）"], "range": ["#8e0f0f", "#0d0da3"]},
              "legend": {"orient": "none", "legendX": 29, "legendY": 253, "symbolSize": 38, "rowPadding": 9, "labelOffset": 15, "padding": 0}}
          }
        }
      ]
    }
  ]
}
